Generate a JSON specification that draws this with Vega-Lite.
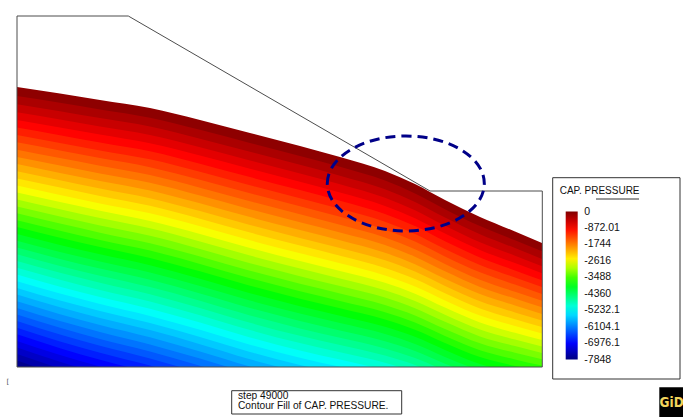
{
"$schema":"https://vega.github.io/schema/vega-lite/v6.json",
"width":526,"height":351,
"autosize":{"type":"none"},
"padding":{"left":17,"top":16,"right":140,"bottom":50},
"background":"white",
"config":{"view":{"stroke":null}},
"layer":[
{
"data":{"values":[
{"p":-98,"x":0,"z":280},{"p":-98,"x":43,"z":273.5},{"p":-98,"x":83,"z":267},{"p":-98,"x":133,"z":259},{"p":-98,"x":183,"z":247},{"p":-98,"x":233,"z":234},{"p":-98,"x":283,"z":221},{"p":-98,"x":323,"z":210},{"p":-98,"x":368,"z":196},{"p":-98,"x":398,"z":183},{"p":-98,"x":428,"z":167},{"p":-98,"x":463,"z":150},{"p":-98,"x":498,"z":135.5},{"p":-98,"x":525,"z":124},
{"p":-294,"x":0,"z":270.9},{"p":-294,"x":43,"z":264.2},{"p":-294,"x":83,"z":257.5},{"p":-294,"x":133,"z":249.3},{"p":-294,"x":183,"z":237.2},{"p":-294,"x":233,"z":224.1},{"p":-294,"x":283,"z":211.1},{"p":-294,"x":323,"z":200.2},{"p":-294,"x":368,"z":186.4},{"p":-294,"x":398,"z":173.6},{"p":-294,"x":428,"z":157.8},{"p":-294,"x":463,"z":140.9},{"p":-294,"x":498,"z":126.8},{"p":-294,"x":525,"z":115.7},
{"p":-491,"x":0,"z":262.7},{"p":-491,"x":43,"z":255.7},{"p":-491,"x":83,"z":248.9},{"p":-491,"x":133,"z":240.5},{"p":-491,"x":183,"z":228.3},{"p":-491,"x":233,"z":215.2},{"p":-491,"x":283,"z":202.2},{"p":-491,"x":323,"z":191.3},{"p":-491,"x":368,"z":177.7},{"p":-491,"x":398,"z":165},{"p":-491,"x":428,"z":149.4},{"p":-491,"x":463,"z":132.7},{"p":-491,"x":498,"z":118.9},{"p":-491,"x":525,"z":108.1},
{"p":-687,"x":0,"z":254.8},{"p":-687,"x":43,"z":247.6},{"p":-687,"x":83,"z":240.6},{"p":-687,"x":133,"z":232.1},{"p":-687,"x":183,"z":219.8},{"p":-687,"x":233,"z":206.6},{"p":-687,"x":283,"z":193.6},{"p":-687,"x":323,"z":182.8},{"p":-687,"x":368,"z":169.3},{"p":-687,"x":398,"z":156.8},{"p":-687,"x":428,"z":141.3},{"p":-687,"x":463,"z":124.8},{"p":-687,"x":498,"z":111.3},{"p":-687,"x":525,"z":100.8},
{"p":-883,"x":0,"z":247.1},{"p":-883,"x":43,"z":239.6},{"p":-883,"x":83,"z":232.5},{"p":-883,"x":133,"z":223.8},{"p":-883,"x":183,"z":211.5},{"p":-883,"x":233,"z":198.2},{"p":-883,"x":283,"z":185.2},{"p":-883,"x":323,"z":174.5},{"p":-883,"x":368,"z":161.1},{"p":-883,"x":398,"z":148.8},{"p":-883,"x":428,"z":133.5},{"p":-883,"x":463,"z":117.1},{"p":-883,"x":498,"z":103.9},{"p":-883,"x":525,"z":93.7},
{"p":-1079,"x":0,"z":239.5},{"p":-1079,"x":43,"z":231.8},{"p":-1079,"x":83,"z":224.5},{"p":-1079,"x":133,"z":215.7},{"p":-1079,"x":183,"z":203.3},{"p":-1079,"x":233,"z":189.9},{"p":-1079,"x":283,"z":176.9},{"p":-1079,"x":323,"z":166.3},{"p":-1079,"x":368,"z":153.1},{"p":-1079,"x":398,"z":140.9},{"p":-1079,"x":428,"z":125.7},{"p":-1079,"x":463,"z":109.5},{"p":-1079,"x":498,"z":96.6},{"p":-1079,"x":525,"z":86.8},
{"p":-1275,"x":0,"z":232},{"p":-1275,"x":43,"z":224.1},{"p":-1275,"x":83,"z":216.6},{"p":-1275,"x":133,"z":207.7},{"p":-1275,"x":183,"z":195.2},{"p":-1275,"x":233,"z":181.7},{"p":-1275,"x":283,"z":168.7},{"p":-1275,"x":323,"z":158.2},{"p":-1275,"x":368,"z":145.2},{"p":-1275,"x":398,"z":133.1},{"p":-1275,"x":428,"z":118.1},{"p":-1275,"x":463,"z":102},{"p":-1275,"x":498,"z":89.5},{"p":-1275,"x":525,"z":79.9},
{"p":-1472,"x":0,"z":224.7},{"p":-1472,"x":43,"z":216.5},{"p":-1472,"x":83,"z":208.9},{"p":-1472,"x":133,"z":199.8},{"p":-1472,"x":183,"z":187.2},{"p":-1472,"x":233,"z":173.7},{"p":-1472,"x":283,"z":160.7},{"p":-1472,"x":323,"z":150.2},{"p":-1472,"x":368,"z":137.3},{"p":-1472,"x":398,"z":125.4},{"p":-1472,"x":428,"z":110.5},{"p":-1472,"x":463,"z":94.7},{"p":-1472,"x":498,"z":82.4},{"p":-1472,"x":525,"z":73.1},
{"p":-1668,"x":0,"z":217.3},{"p":-1668,"x":43,"z":208.9},{"p":-1668,"x":83,"z":201.2},{"p":-1668,"x":133,"z":191.9},{"p":-1668,"x":183,"z":179.3},{"p":-1668,"x":233,"z":165.7},{"p":-1668,"x":283,"z":152.7},{"p":-1668,"x":323,"z":142.3},{"p":-1668,"x":368,"z":129.6},{"p":-1668,"x":398,"z":117.8},{"p":-1668,"x":428,"z":103.1},{"p":-1668,"x":463,"z":87.3},{"p":-1668,"x":498,"z":75.3},{"p":-1668,"x":525,"z":66.3},
{"p":-1864,"x":0,"z":210.1},{"p":-1864,"x":43,"z":201.5},{"p":-1864,"x":83,"z":193.6},{"p":-1864,"x":133,"z":184.2},{"p":-1864,"x":183,"z":171.5},{"p":-1864,"x":233,"z":157.8},{"p":-1864,"x":283,"z":144.8},{"p":-1864,"x":323,"z":134.5},{"p":-1864,"x":368,"z":121.9},{"p":-1864,"x":398,"z":110.3},{"p":-1864,"x":428,"z":95.7},{"p":-1864,"x":463,"z":80.1},{"p":-1864,"x":498,"z":68.4},{"p":-1864,"x":525,"z":59.7},
{"p":-2060,"x":0,"z":202.9},{"p":-2060,"x":43,"z":194.1},{"p":-2060,"x":83,"z":186},{"p":-2060,"x":133,"z":176.5},{"p":-2060,"x":183,"z":163.7},{"p":-2060,"x":233,"z":149.9},{"p":-2060,"x":283,"z":136.9},{"p":-2060,"x":323,"z":126.7},{"p":-2060,"x":368,"z":114.2},{"p":-2060,"x":398,"z":102.8},{"p":-2060,"x":428,"z":88.3},{"p":-2060,"x":463,"z":72.9},{"p":-2060,"x":498,"z":61.5},{"p":-2060,"x":525,"z":53},
{"p":-2256,"x":0,"z":195.7},{"p":-2256,"x":43,"z":186.7},{"p":-2256,"x":83,"z":178.5},{"p":-2256,"x":133,"z":168.8},{"p":-2256,"x":183,"z":156},{"p":-2256,"x":233,"z":142.1},{"p":-2256,"x":283,"z":129.1},{"p":-2256,"x":323,"z":119},{"p":-2256,"x":368,"z":106.7},{"p":-2256,"x":398,"z":95.4},{"p":-2256,"x":428,"z":81},{"p":-2256,"x":463,"z":65.7},{"p":-2256,"x":498,"z":54.6},{"p":-2256,"x":525,"z":46.5},
{"p":-2453,"x":0,"z":188.6},{"p":-2453,"x":43,"z":179.4},{"p":-2453,"x":83,"z":171},{"p":-2453,"x":133,"z":161.2},{"p":-2453,"x":183,"z":148.3},{"p":-2453,"x":233,"z":134.4},{"p":-2453,"x":283,"z":121.4},{"p":-2453,"x":323,"z":111.3},{"p":-2453,"x":368,"z":99.1},{"p":-2453,"x":398,"z":88},{"p":-2453,"x":428,"z":73.8},{"p":-2453,"x":463,"z":58.6},{"p":-2453,"x":498,"z":47.8},{"p":-2453,"x":525,"z":39.9},
{"p":-2649,"x":0,"z":181.5},{"p":-2649,"x":43,"z":172.1},{"p":-2649,"x":83,"z":163.6},{"p":-2649,"x":133,"z":153.7},{"p":-2649,"x":183,"z":140.7},{"p":-2649,"x":233,"z":126.7},{"p":-2649,"x":283,"z":113.7},{"p":-2649,"x":323,"z":103.7},{"p":-2649,"x":368,"z":91.6},{"p":-2649,"x":398,"z":80.6},{"p":-2649,"x":428,"z":66.6},{"p":-2649,"x":463,"z":51.5},{"p":-2649,"x":498,"z":41},{"p":-2649,"x":525,"z":33.4},
{"p":-2845,"x":0,"z":174.5},{"p":-2845,"x":43,"z":164.9},{"p":-2845,"x":83,"z":156.3},{"p":-2845,"x":133,"z":146.1},{"p":-2845,"x":183,"z":133.1},{"p":-2845,"x":233,"z":119},{"p":-2845,"x":283,"z":106},{"p":-2845,"x":323,"z":96.1},{"p":-2845,"x":368,"z":84.2},{"p":-2845,"x":398,"z":73.3},{"p":-2845,"x":428,"z":59.4},{"p":-2845,"x":463,"z":44.5},{"p":-2845,"x":498,"z":34.2},{"p":-2845,"x":525,"z":27},
{"p":-3041,"x":0,"z":167.5},{"p":-3041,"x":43,"z":157.7},{"p":-3041,"x":83,"z":148.9},{"p":-3041,"x":133,"z":138.7},{"p":-3041,"x":183,"z":125.5},{"p":-3041,"x":233,"z":111.4},{"p":-3041,"x":283,"z":98.4},{"p":-3041,"x":323,"z":88.5},{"p":-3041,"x":368,"z":76.8},{"p":-3041,"x":398,"z":66},{"p":-3041,"x":428,"z":52.3},{"p":-3041,"x":463,"z":37.5},{"p":-3041,"x":498,"z":27.5},{"p":-3041,"x":525,"z":20.5},
{"p":-3237,"x":0,"z":160.6},{"p":-3237,"x":43,"z":150.5},{"p":-3237,"x":83,"z":141.6},{"p":-3237,"x":133,"z":131.2},{"p":-3237,"x":183,"z":118},{"p":-3237,"x":233,"z":103.8},{"p":-3237,"x":283,"z":90.8},{"p":-3237,"x":323,"z":81},{"p":-3237,"x":368,"z":69.4},{"p":-3237,"x":398,"z":58.8},{"p":-3237,"x":428,"z":45.2},{"p":-3237,"x":463,"z":30.6},{"p":-3237,"x":498,"z":20.9},{"p":-3237,"x":525,"z":14.1},
{"p":-3434,"x":0,"z":153.7},{"p":-3434,"x":43,"z":143.4},{"p":-3434,"x":83,"z":134.3},{"p":-3434,"x":133,"z":123.8},{"p":-3434,"x":183,"z":110.6},{"p":-3434,"x":233,"z":96.3},{"p":-3434,"x":283,"z":83.3},{"p":-3434,"x":323,"z":73.6},{"p":-3434,"x":368,"z":62.1},{"p":-3434,"x":398,"z":51.6},{"p":-3434,"x":428,"z":38.1},{"p":-3434,"x":463,"z":23.7},{"p":-3434,"x":498,"z":14.2},{"p":-3434,"x":525,"z":7.8},
{"p":-3630,"x":0,"z":146.8},{"p":-3630,"x":43,"z":136.3},{"p":-3630,"x":83,"z":127.1},{"p":-3630,"x":133,"z":116.4},{"p":-3630,"x":183,"z":103.1},{"p":-3630,"x":233,"z":88.8},{"p":-3630,"x":283,"z":75.8},{"p":-3630,"x":323,"z":66.1},{"p":-3630,"x":368,"z":54.8},{"p":-3630,"x":398,"z":44.4},{"p":-3630,"x":428,"z":31.1},{"p":-3630,"x":463,"z":16.8},{"p":-3630,"x":498,"z":7.6},{"p":-3630,"x":525,"z":1.4},
{"p":-3826,"x":0,"z":139.9},{"p":-3826,"x":43,"z":129.2},{"p":-3826,"x":83,"z":119.9},{"p":-3826,"x":133,"z":109.1},{"p":-3826,"x":183,"z":95.7},{"p":-3826,"x":233,"z":81.3},{"p":-3826,"x":283,"z":68.3},{"p":-3826,"x":323,"z":58.7},{"p":-3826,"x":368,"z":47.5},{"p":-3826,"x":398,"z":37.3},{"p":-3826,"x":428,"z":24.1},{"p":-3826,"x":463,"z":9.9},{"p":-3826,"x":498,"z":1},{"p":-3826,"x":525,"z":-4.9},
{"p":-4022,"x":0,"z":133},{"p":-4022,"x":43,"z":122.1},{"p":-4022,"x":83,"z":112.7},{"p":-4022,"x":133,"z":101.8},{"p":-4022,"x":183,"z":88.3},{"p":-4022,"x":233,"z":73.8},{"p":-4022,"x":283,"z":60.8},{"p":-4022,"x":323,"z":51.3},{"p":-4022,"x":368,"z":40.2},{"p":-4022,"x":398,"z":30.2},{"p":-4022,"x":428,"z":17.1},{"p":-4022,"x":463,"z":3},{"p":-4022,"x":498,"z":-5.6},
{"p":-4218,"x":0,"z":126.2},{"p":-4218,"x":43,"z":115.1},{"p":-4218,"x":83,"z":105.5},{"p":-4218,"x":133,"z":94.5},{"p":-4218,"x":183,"z":80.9},{"p":-4218,"x":233,"z":66.4},{"p":-4218,"x":283,"z":53.4},{"p":-4218,"x":323,"z":43.9},{"p":-4218,"x":368,"z":33},{"p":-4218,"x":398,"z":23.1},{"p":-4218,"x":428,"z":10.1},{"p":-4218,"x":463,"z":-3.8},
{"p":-4415,"x":0,"z":119.4},{"p":-4415,"x":43,"z":108.1},{"p":-4415,"x":83,"z":98.4},{"p":-4415,"x":133,"z":87.2},{"p":-4415,"x":183,"z":73.6},{"p":-4415,"x":233,"z":59},{"p":-4415,"x":283,"z":46},{"p":-4415,"x":323,"z":36.6},{"p":-4415,"x":368,"z":25.8},{"p":-4415,"x":398,"z":16},{"p":-4415,"x":428,"z":3.2},{"p":-4415,"x":463,"z":-10.6},
{"p":-4611,"x":0,"z":112.7},{"p":-4611,"x":43,"z":101.1},{"p":-4611,"x":83,"z":91.3},{"p":-4611,"x":133,"z":79.9},{"p":-4611,"x":183,"z":66.3},{"p":-4611,"x":233,"z":51.6},{"p":-4611,"x":283,"z":38.6},{"p":-4611,"x":323,"z":29.3},{"p":-4611,"x":368,"z":18.6},{"p":-4611,"x":398,"z":9},{"p":-4611,"x":428,"z":-3.7},
{"p":-4807,"x":0,"z":105.9},{"p":-4807,"x":43,"z":94.2},{"p":-4807,"x":83,"z":84.2},{"p":-4807,"x":133,"z":72.7},{"p":-4807,"x":183,"z":59},{"p":-4807,"x":233,"z":44.2},{"p":-4807,"x":283,"z":31.2},{"p":-4807,"x":323,"z":22},{"p":-4807,"x":368,"z":11.4},{"p":-4807,"x":398,"z":1.9},{"p":-4807,"x":428,"z":-10.6},
{"p":-5003,"x":0,"z":99.2},{"p":-5003,"x":43,"z":87.2},{"p":-5003,"x":83,"z":77.1},{"p":-5003,"x":133,"z":65.5},{"p":-5003,"x":183,"z":51.7},{"p":-5003,"x":233,"z":36.9},{"p":-5003,"x":283,"z":23.9},{"p":-5003,"x":323,"z":14.7},{"p":-5003,"x":368,"z":4.3},{"p":-5003,"x":398,"z":-5.1},
{"p":-5199,"x":0,"z":92.4},{"p":-5199,"x":43,"z":80.3},{"p":-5199,"x":83,"z":70.1},{"p":-5199,"x":133,"z":58.3},{"p":-5199,"x":183,"z":44.4},{"p":-5199,"x":233,"z":29.6},{"p":-5199,"x":283,"z":16.6},{"p":-5199,"x":323,"z":7.4},{"p":-5199,"x":368,"z":-2.8},
{"p":-5396,"x":0,"z":85.7},{"p":-5396,"x":43,"z":73.4},{"p":-5396,"x":83,"z":63},{"p":-5396,"x":133,"z":51.1},{"p":-5396,"x":183,"z":37.2},{"p":-5396,"x":233,"z":22.3},{"p":-5396,"x":283,"z":9.3},{"p":-5396,"x":323,"z":0.2},{"p":-5396,"x":368,"z":-9.9},
{"p":-5592,"x":0,"z":79.1},{"p":-5592,"x":43,"z":66.5},{"p":-5592,"x":83,"z":56},{"p":-5592,"x":133,"z":44},{"p":-5592,"x":183,"z":30},{"p":-5592,"x":233,"z":15},{"p":-5592,"x":283,"z":2},{"p":-5592,"x":323,"z":-7},
{"p":-5788,"x":0,"z":72.4},{"p":-5788,"x":43,"z":59.7},{"p":-5788,"x":83,"z":49},{"p":-5788,"x":133,"z":36.9},{"p":-5788,"x":183,"z":22.8},{"p":-5788,"x":233,"z":7.7},{"p":-5788,"x":283,"z":-5.3},
{"p":-5984,"x":0,"z":65.7},{"p":-5984,"x":43,"z":52.8},{"p":-5984,"x":83,"z":42},{"p":-5984,"x":133,"z":29.7},{"p":-5984,"x":183,"z":15.6},{"p":-5984,"x":233,"z":0.5},{"p":-5984,"x":283,"z":-12.5},
{"p":-6180,"x":0,"z":59.1},{"p":-6180,"x":43,"z":46},{"p":-6180,"x":83,"z":35.1},{"p":-6180,"x":133,"z":22.6},{"p":-6180,"x":183,"z":8.4},{"p":-6180,"x":233,"z":-6.8},
{"p":-6377,"x":0,"z":52.5},{"p":-6377,"x":43,"z":39.2},{"p":-6377,"x":83,"z":28.1},{"p":-6377,"x":133,"z":15.6},{"p":-6377,"x":183,"z":1.3},{"p":-6377,"x":233,"z":-14},
{"p":-6573,"x":0,"z":45.9},{"p":-6573,"x":43,"z":32.4},{"p":-6573,"x":83,"z":21.2},{"p":-6573,"x":133,"z":8.5},{"p":-6573,"x":183,"z":-5.9},
{"p":-6769,"x":0,"z":39.3},{"p":-6769,"x":43,"z":25.6},{"p":-6769,"x":83,"z":14.2},{"p":-6769,"x":133,"z":1.4},{"p":-6769,"x":183,"z":-13},
{"p":-6965,"x":0,"z":32.7},{"p":-6965,"x":43,"z":18.8},{"p":-6965,"x":83,"z":7.3},{"p":-6965,"x":133,"z":-5.6},
{"p":-7161,"x":0,"z":26.1},{"p":-7161,"x":43,"z":12},{"p":-7161,"x":83,"z":0.4},{"p":-7161,"x":133,"z":-12.6},
{"p":-7358,"x":0,"z":19.6},{"p":-7358,"x":43,"z":5.3},{"p":-7358,"x":83,"z":-6.4},
{"p":-7554,"x":0,"z":13},{"p":-7554,"x":43,"z":-1.5},
{"p":-7750,"x":0,"z":6.5},{"p":-7750,"x":43,"z":-8.2}
]},
"mark":{"type":"area","interpolate":"monotone","clip":true},
"encoding":{
"x":{"field":"x","type":"quantitative","scale":{"domain":[0,526],"nice":false,"zero":false},"axis":null},
"y":{"field":"z","type":"quantitative","scale":{"domain":[0,351],"nice":false,"zero":false},"axis":null,"stack":null},
"detail":{"field":"p","type":"quantitative"},
"color":{"field":"p","type":"quantitative",
"scale":{"domain":[-7848,-6976,-5232,-3800,-2616,-872,0],"range":["#000080","#0000ff","#00ffff","#00ff00","#ffff00","#ff0000","#800000"],"interpolate":"rgb"},
"legend":{"title":"CAP. PRESSURE","orient":"none","legendX":535.7,"legendY":162.5,"direction":"vertical",
"gradientLength":148,"gradientThickness":12,"gradientStrokeWidth":0,
"values":[0,-872.01,-1744,-2616,-3488,-4360,-5232.1,-6104.1,-6976.1,-7848],
"labelExpr":"datum.value + ''","labelFont":"Liberation Sans","labelFontSize":10.5,"labelColor":"#111","labelOffset":12.6,"labelOverlap":false,
"titleFont":"Liberation Sans","titleFontSize":10,"titleFontWeight":"normal","titleColor":"#111","titlePadding":16,
"padding":7,
"encode":{"gradient":{"update":{"x":{"value":6}}},"labels":{"update":{"baseline":{"value":"middle"}}}}}}
}
},
{
"data":{"values":[{"o":1,"x":0,"z":351},{"o":2,"x":111.3,"z":351},{"o":3,"x":413,"z":176},{"o":4,"x":525.3,"z":176},{"o":5,"x":525.3,"z":0},{"o":6,"x":0,"z":0},{"o":7,"x":0,"z":351}]},
"mark":{"type":"line","color":"#4d4d4d","strokeWidth":1},
"encoding":{
"x":{"field":"x","type":"quantitative","scale":{"domain":[0,526],"nice":false,"zero":false},"axis":null},
"y":{"field":"z","type":"quantitative","scale":{"domain":[0,351],"nice":false,"zero":false},"axis":null},
"order":{"field":"o","type":"quantitative"}
}
},
{
"data":{"values":[{"x":388.8,"z":183.5}]},
"mark":{"type":"point","shape":"M-1,0A1,0.605,0,1,1,1,0A1,0.605,0,1,1,-1,0Z","size":24649,"filled":false,"stroke":"#000088","strokeWidth":3,"strokeDash":[10,6],"opacity":1},
"encoding":{
"x":{"field":"x","type":"quantitative","scale":{"domain":[0,526],"nice":false,"zero":false},"axis":null},
"y":{"field":"z","type":"quantitative","scale":{"domain":[0,351],"nice":false,"zero":false},"axis":null}
}
},
{
"data":{"values":[{"x":214.7,"x2":384.7,"z":-23.7,"z2":-47},{"x":535.7,"x2":663,"z":189.3,"z2":-12}]},
"mark":{"type":"rect","fill":null,"stroke":"#333","strokeWidth":1},
"encoding":{
"x":{"field":"x","type":"quantitative","scale":{"domain":[0,526],"nice":false,"zero":false},"axis":null},
"x2":{"field":"x2"},
"y":{"field":"z","type":"quantitative","scale":{"domain":[0,351],"nice":false,"zero":false},"axis":null},
"y2":{"field":"z2"}
}
},
{
"data":{"values":[{"x":642.3,"x2":690,"z":-20.3,"z2":-52}]},
"mark":{"type":"rect","fill":"#000000"},
"encoding":{
"x":{"field":"x","type":"quantitative","scale":{"domain":[0,526],"nice":false,"zero":false},"axis":null},
"x2":{"field":"x2"},
"y":{"field":"z","type":"quantitative","scale":{"domain":[0,351],"nice":false,"zero":false},"axis":null},
"y2":{"field":"z2"}
}
},
{
"data":{"values":[{"x":221,"z":-31.8,"t":"step 49000"},{"x":221,"z":-42,"t":"Contour Fill of CAP. PRESSURE."}]},
"mark":{"type":"text","align":"left","baseline":"alphabetic","font":"Liberation Sans","fontSize":10.2,"color":"#111"},
"encoding":{
"x":{"field":"x","type":"quantitative","scale":{"domain":[0,526],"nice":false,"zero":false},"axis":null},
"y":{"field":"z","type":"quantitative","scale":{"domain":[0,351],"nice":false,"zero":false},"axis":null},
"text":{"field":"t"}
}
},
{
"data":{"values":[{"x":642.6,"z":-39.5,"t":"GiD"}]},
"mark":{"type":"text","align":"left","baseline":"alphabetic","font":"DejaVu Sans Condensed","fontWeight":"bold","fontSize":13.5,"color":"#f2d45c"},
"encoding":{
"x":{"field":"x","type":"quantitative","scale":{"domain":[0,526],"nice":false,"zero":false},"axis":null},
"y":{"field":"z","type":"quantitative","scale":{"domain":[0,351],"nice":false,"zero":false},"axis":null},
"text":{"field":"t"}
}
},
{
"data":{"values":[{"x":-10.5,"z":-17,"t":"["}]},
"mark":{"type":"text","align":"left","baseline":"alphabetic","font":"DejaVu Sans","fontSize":7,"color":"#555"},
"encoding":{
"x":{"field":"x","type":"quantitative","scale":{"domain":[0,526],"nice":false,"zero":false},"axis":null},
"y":{"field":"z","type":"quantitative","scale":{"domain":[0,351],"nice":false,"zero":false},"axis":null},
"text":{"field":"t"}
}
},
{
"data":{"values":[{"x":579,"x2":622,"z":168}]},
"mark":{"type":"rule","color":"#333","strokeWidth":1},
"encoding":{
"x":{"field":"x","type":"quantitative","scale":{"domain":[0,526],"nice":false,"zero":false},"axis":null},
"x2":{"field":"x2"},
"y":{"field":"z","type":"quantitative","scale":{"domain":[0,351],"nice":false,"zero":false},"axis":null}
}
}
]
}
